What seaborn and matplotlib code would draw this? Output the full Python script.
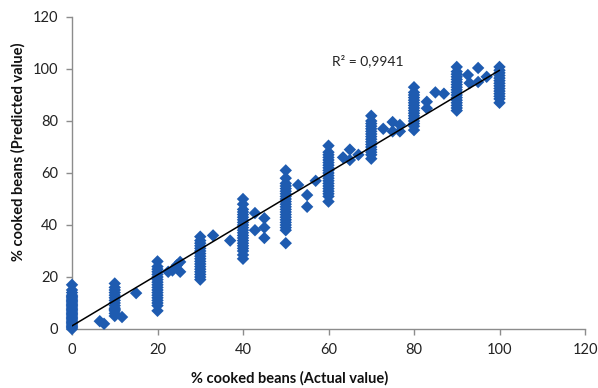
import matplotlib
matplotlib.use("Agg")
import matplotlib.pyplot as plt
import seaborn as sns
import pandas as pd

# ---- data (actual %, predicted %) ----
col_0 = [0, 0.5, 1, 1.5, 2, 2.5, 3, 3.5, 4, 4.5, 5, 5.5, 6, 6.5, 7, 7.5, 8, 8.5, 9, 9.5,
         10, 10.5, 11, 11.5, 12, 12.5, 13, 14, 15, 17]
col_10 = [5, 6, 7, 7.5, 8, 9, 10, 11, 12, 13, 14, 15, 16, 17.5]
col_20 = [7, 9, 10, 11, 12, 13, 14, 15, 16, 17, 18, 19, 20, 21, 22, 23, 24, 26]
col_30 = [19, 20, 21, 22, 23, 24, 25, 26, 27, 28, 29, 30, 31, 32, 33, 34, 35.5]
col_40 = [27, 28.5, 30, 31, 32, 33, 34, 35, 36, 37, 38, 39, 40, 41, 42, 43, 44, 45, 46, 48, 50]
col_50 = [33, 38, 39, 40, 41, 42, 43, 44, 45, 46, 47, 48, 49, 50, 51, 52, 53, 54, 55, 56, 58, 61]
col_60 = [49, 51, 52, 53, 54, 55, 56, 57, 58, 59, 60, 61, 62, 63, 64, 65, 66, 67, 68, 70.5]
col_70 = [65.5, 67, 68, 69, 70, 71, 72, 73, 74, 75, 76, 77, 78, 79, 80, 82]
col_80 = [76.5, 78, 79, 80, 81, 82, 83, 84, 85, 86, 87, 88, 89, 90, 91, 93]
col_90 = [84, 85, 86, 87, 88, 89, 90, 91, 92, 93, 94, 95, 96, 97, 98, 99, 100.8]
col_100 = [87, 88.5, 89.5, 90.5, 91.5, 92.5, 93.5, 94.5, 95.5, 96.5, 97.5, 98.5, 99.5, 100.8]

extra_actual = [6.5, 7.5, 11.7, 15, 22.5, 23.5, 24.5, 25.3, 25.3, 33, 37,
                42.8, 42.8, 45, 45, 45, 52.9, 55, 55, 57,
                63.4, 65, 65, 67, 72.8, 75, 75, 76.7, 76.7,
                83, 83, 85, 87, 92.6, 93, 95, 95, 97]
extra_pred = [3, 2, 4.6, 13.8, 22, 22.5, 24.5, 25.8, 22, 36, 34,
              44.6, 38, 42.6, 39, 35, 55.4, 51.5, 47, 57,
              66, 69, 65, 67, 77, 79.6, 76, 78.5, 76,
              87.4, 84.9, 91, 90.5, 97.7, 94.6, 100.4, 95, 97]

columns = {0: col_0, 10: col_10, 20: col_20, 30: col_30, 40: col_40, 50: col_50,
           60: col_60, 70: col_70, 80: col_80, 90: col_90, 100: col_100}

trend_x = [0, 100]
trend_y = [1.2, 99.5]
r2_text = "R² = 0,9941"

x_ticks = [0, 20, 40, 60, 80, 100, 120]
y_ticks = [0, 20, 40, 60, 80, 100, 120]

actual, predicted = [], []
for xv, ys in columns.items():
    actual += [xv] * len(ys)
    predicted += ys
actual += extra_actual
predicted += extra_pred
df = pd.DataFrame({"actual": actual, "predicted": predicted})

# ---- plotting ----
sns.set_style("white")
plt.rcParams["font.family"] = ["Lato", "DejaVu Sans"]

fig = plt.figure(figsize=(5.98, 3.88), dpi=100)
ax = fig.add_axes([72 / 598, 59 / 388, 513 / 598, 312 / 388])

blue = "#1E5BB0"
sns.scatterplot(data=df, x="actual", y="predicted", marker="D", s=40,
                color=blue, edgecolor="none", linewidth=0, ax=ax, zorder=3,
                clip_on=False)
sns.lineplot(x=trend_x, y=trend_y, color="black", linewidth=1.1, ax=ax, zorder=4)

ax.set_xlim(0, 120)
ax.set_ylim(0, 120)
ax.set_xticks(x_ticks)
ax.set_yticks(y_ticks)
ax.set_xticklabels([str(t) for t in x_ticks])
ax.set_yticklabels([str(t) for t in y_ticks])

gray = "#8C8C8C"
for side in ["top", "right"]:
    ax.spines[side].set_visible(False)
for side in ["left", "bottom"]:
    ax.spines[side].set_color(gray)
    ax.spines[side].set_linewidth(1.0)
    ax.spines[side].set_zorder(2)
ax.tick_params(axis="both", direction="out", length=4, width=1, color=gray,
               labelsize=10.5, labelcolor="#222222", pad=6)
ax.tick_params(axis="x", bottom=True)
ax.tick_params(axis="y", left=True)

ax.set_xlabel("% cooked beans (Actual value)", fontsize=10.5, fontweight="bold", color="#111111")
ax.set_ylabel("% cooked beans (Predicted value)", fontsize=10.5, fontweight="bold", color="#111111")
ax.xaxis.set_label_coords((290 - 72) / 513, (329 - 378) / 312)
ax.xaxis.label.set_va("center")
ax.yaxis.set_label_coords((18 - 72) / 513, (329 - 152) / 312)
ax.yaxis.label.set_va("center")

ax.text(60.8, 103, r2_text, fontsize=10, color="#222222", ha="left", va="center")

fig.savefig("out.png", dpi=100)
